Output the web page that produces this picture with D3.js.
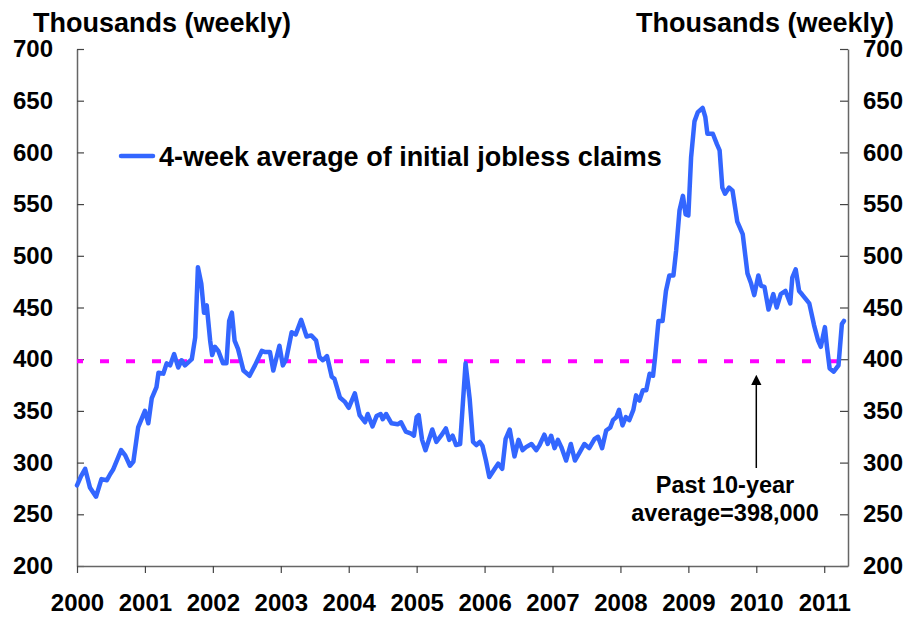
<!DOCTYPE html>
<html>
<head>
<meta charset="utf-8">
<script src="https://cdn.jsdelivr.net/npm/d3@7"></script>
<style>
  body { margin: 0; background: #fff; }
  svg text { font-family: "Liberation Sans", Arial, sans-serif; font-weight: bold; fill: #000; }
</style>
</head>
<body>
<div id="chart"></div>
<script>
// Setting the SVG size
let svgWidth = 920;
let svgHeight = 623;

// plot box edges (pixels)
let margin = { top: 49, right: 72, bottom: 57, left: 77 };
let width = svgWidth - margin.left - margin.right;
let height = svgHeight - margin.top - margin.bottom;

// Data: decimal year and 4-week average (thousands)
let dates = [2000.00, 2000.06, 2000.12, 2000.19, 2000.28, 2000.36, 2000.44, 2000.49, 2000.53, 2000.65,
    2000.71, 2000.78, 2000.83, 2000.90, 2001.00, 2001.05, 2001.10, 2001.17, 2001.20, 2001.27,
    2001.32, 2001.37, 2001.43, 2001.49, 2001.54, 2001.59, 2001.69, 2001.74, 2001.78, 2001.83,
    2001.87, 2001.91, 2001.96, 2001.99, 2002.03, 2002.08, 2002.15, 2002.20, 2002.24, 2002.28,
    2002.32, 2002.37, 2002.45, 2002.54, 2002.62, 2002.72, 2002.76, 2002.84, 2002.89, 2002.98,
    2003.03, 2003.08, 2003.16, 2003.22, 2003.30, 2003.38, 2003.45, 2003.52, 2003.57, 2003.62,
    2003.68, 2003.75, 2003.79, 2003.87, 2003.94, 2004.00, 2004.09, 2004.16, 2004.24, 2004.28,
    2004.35, 2004.41, 2004.47, 2004.50, 2004.55, 2004.63, 2004.72, 2004.77, 2004.84, 2004.92,
    2004.96, 2005.00, 2005.03, 2005.08, 2005.13, 2005.23, 2005.29, 2005.36, 2005.43, 2005.48,
    2005.53, 2005.58, 2005.64, 2005.72, 2005.78, 2005.83, 2005.88, 2005.93, 2005.97, 2006.02,
    2006.07, 2006.15, 2006.20, 2006.26, 2006.31, 2006.37, 2006.44, 2006.50, 2006.56, 2006.61,
    2006.69, 2006.76, 2006.81, 2006.88, 2006.93, 2006.98, 2007.03, 2007.08, 2007.13, 2007.20,
    2007.27, 2007.33, 2007.40, 2007.47, 2007.54, 2007.62, 2007.67, 2007.73, 2007.79, 2007.85,
    2007.89, 2007.94, 2007.98, 2008.03, 2008.08, 2008.13, 2008.19, 2008.23, 2008.28, 2008.33,
    2008.38, 2008.43, 2008.48, 2008.51, 2008.56, 2008.62, 2008.67, 2008.72, 2008.78, 2008.82,
    2008.87, 2008.92, 2008.96, 2009.00, 2009.04, 2009.09, 2009.14, 2009.21, 2009.25, 2009.28,
    2009.36, 2009.42, 2009.46, 2009.50, 2009.54, 2009.60, 2009.65, 2009.72, 2009.80, 2009.87,
    2009.92, 2009.97, 2010.03, 2010.07, 2010.12, 2010.18, 2010.25, 2010.30, 2010.36, 2010.43,
    2010.50, 2010.53, 2010.58, 2010.63, 2010.67, 2010.73, 2010.78, 2010.85, 2010.91, 2010.95,
    2011.01, 2011.04, 2011.08, 2011.14, 2011.21, 2011.26, 2011.29];

let claims = [278, 287, 294, 276, 267, 284, 283, 289, 293, 312,
    307, 297, 301, 334, 350, 338, 362, 373, 387, 386,
    396, 394, 405, 392, 399, 394, 400, 421, 489, 473,
    445, 452, 418, 404, 412, 408, 396, 396, 437, 445,
    418, 410, 389, 384, 394, 408, 407, 407, 389, 413,
    394, 400, 426, 424, 438, 422, 423, 418, 402, 399,
    403, 383, 381, 363, 359, 353, 367, 346, 339, 347,
    335, 345, 347, 342, 347, 338, 337, 339, 330, 328,
    326, 344, 346, 322, 312, 332, 320, 326, 333, 322,
    326, 317, 318, 396, 362, 320, 317, 320, 316, 302,
    286, 294, 299, 294, 323, 332, 306, 322, 312, 315,
    318, 312, 317, 327, 318, 326, 314, 322, 315, 302,
    318, 302, 310, 318, 314, 323, 325, 314, 331, 334,
    341, 344, 351, 336, 344, 341, 351, 365, 360, 370,
    370, 386, 384, 402, 437, 437, 466, 481, 481, 505,
    544, 558, 540, 539, 595, 630, 639, 643, 634, 618,
    618, 608, 602, 566, 560, 566, 563, 533, 521, 483,
    474, 462, 481, 471, 470, 448, 463, 450, 463, 466,
    454, 479, 487, 466, 463, 458, 454, 433, 418, 412,
    431, 412, 391, 388, 394, 434, 437];

let yearTicks = [2000, 2001, 2002, 2003, 2004, 2005, 2006, 2007, 2008, 2009, 2010, 2011];
let valueTicks = [200, 250, 300, 350, 400, 450, 500, 550, 600, 650, 700];
let tenYearAvg = 398;

let svg = d3.select('#chart')
    .append('svg')
    .attr('width', svgWidth)
    .attr('height', svgHeight);

let chartGroup = svg.append('g')
    .attr('transform', `translate(${margin.left}, ${margin.top})`);

let xScale = d3.scaleLinear()
    .domain([2000, 2011.35])
    .range([0, width]);

let yScale = d3.scaleLinear()
    .domain([200, 700])
    .range([height, 0]);

// axes
let leftAxis = d3.axisLeft(yScale)
    .tickValues(valueTicks)
    .tickSizeInner(-7)
    .tickSizeOuter(0)
    .tickPadding(24);

let rightAxis = d3.axisRight(yScale)
    .tickValues(valueTicks)
    .tickSizeInner(-8)
    .tickSizeOuter(0)
    .tickPadding(15);

let bottomAxis = d3.axisBottom(xScale)
    .tickValues(yearTicks)
    .tickFormat(d3.format('d'))
    .tickSizeInner(7)
    .tickSizeOuter(0)
    .tickPadding(21);

let yLeft = chartGroup.append('g').call(leftAxis);
let yRight = chartGroup.append('g')
    .attr('transform', `translate(${width}, 0)`)
    .call(rightAxis);
let xAxis = chartGroup.append('g')
    .attr('transform', `translate(0, ${height})`)
    .call(bottomAxis);

[yLeft, yRight, xAxis].forEach(function(ax) {
    ax.select('.domain').attr('stroke', '#666').attr('stroke-width', 1.5);
    ax.selectAll('.tick line').attr('stroke', '#444').attr('stroke-width', 1.2);
    ax.selectAll('text').attr('font-size', 24).attr('font-family', null);
});

// past 10-year average
chartGroup.append('line')
    .attr('x1', 0)
    .attr('x2', width)
    .attr('y1', yScale(tenYearAvg))
    .attr('y2', yScale(tenYearAvg))
    .attr('stroke', '#ff00ff')
    .attr('stroke-width', 4)
    .attr('stroke-dasharray', '9,17')
    .attr('stroke-dashoffset', 3);

// the claims line
let points = dates.map((d, i) => ({ date: d, value: claims[i] }));

let line = d3.line()
    .x(d => xScale(d.date))
    .y(d => yScale(d.value));

chartGroup.append('path')
    .datum(points)
    .attr('d', line)
    .attr('fill', 'none')
    .attr('stroke', '#3366ff')
    .attr('stroke-width', 4.5)
    .attr('stroke-linejoin', 'round')
    .attr('stroke-linecap', 'round');

// titles
svg.append('text')
    .attr('x', 33)
    .attr('y', 32)
    .attr('font-size', 27)
    .text('Thousands (weekly)');

svg.append('text')
    .attr('x', 894)
    .attr('y', 32)
    .attr('text-anchor', 'end')
    .attr('font-size', 27)
    .text('Thousands (weekly)');

// legend
svg.append('line')
    .attr('x1', 121)
    .attr('x2', 153)
    .attr('y1', 156)
    .attr('y2', 156)
    .attr('stroke', '#3366ff')
    .attr('stroke-width', 4.5)
    .attr('stroke-linecap', 'round');

svg.append('text')
    .attr('x', 159)
    .attr('y', 166)
    .attr('font-size', 27)
    .text('4-week average of initial jobless claims');

// annotation with arrow
let arrowX = xScale(2010);
svg.append('defs').append('marker')
    .attr('id', 'arrowhead')
    .attr('viewBox', '0 0 10 10')
    .attr('refX', 5)
    .attr('refY', 5)
    .attr('markerWidth', 7)
    .attr('markerHeight', 7)
    .attr('orient', 'auto')
    .append('path')
    .attr('d', 'M0,0 L10,5 L0,10 Z')
    .attr('fill', '#000');

svg.append('line')
    .attr('x1', margin.left + arrowX)
    .attr('x2', margin.left + arrowX)
    .attr('y1', 468)
    .attr('y2', 380)
    .attr('stroke', '#000')
    .attr('stroke-width', 1.5)
    .attr('marker-end', 'url(#arrowhead)');

let note = svg.append('text')
    .attr('text-anchor', 'middle')
    .attr('font-size', 23.5);
note.append('tspan')
    .attr('x', 725)
    .attr('y', 493)
    .text('Past 10-year');
note.append('tspan')
    .attr('x', 725)
    .attr('y', 521)
    .text('average=398,000');
</script>
</body>
</html>
